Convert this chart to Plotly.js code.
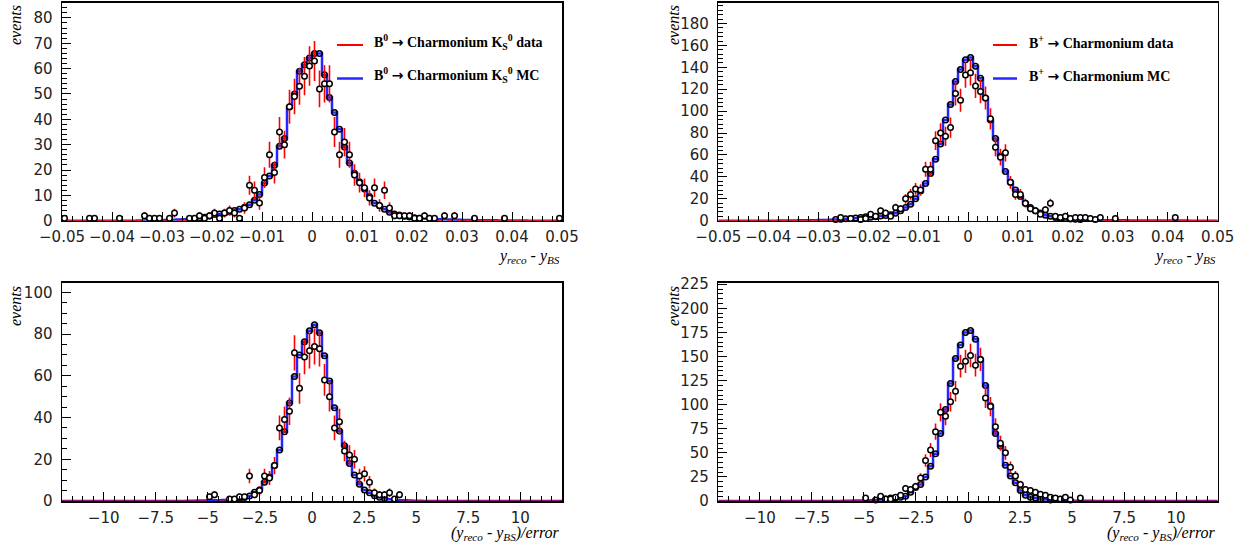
<!DOCTYPE html>
<html>
<head>
<meta charset="utf-8">
<script src="https://cdn.plot.ly/plotly-3.0.1.min.js"></script>
<style>html,body{margin:0;padding:0;background:#fff;}#chart{width:1257px;height:549px;}</style>
</head>
<body>
<div id="chart"></div>
<script>
// ---------------- data (100 bins per histogram) ----------------
const TOP_RANGE = [-0.05, 0.05];
const BOT_RANGE = [-12, 12];
const NBINS = 100;

// top-left: B0 -> Charmonium Ks0, y_reco - y_BS
const TL_DATA = [
 1,0,0,0,0,1,1,0,0,0,
 0,1,0,0,0,0,2,1,1,1,
 0,1,3,0,0,1,1,2,1,2,
 3,1,3,4,3,1,5,14,12,7,
 17,26,19,35,30,45,49,53,57,61,
 63,52,54,54,35,26,31,26,18,15,
 13,9,13,6,12,5,2,2,2,2,
 1,1,2,1,1,0,2,0,2,0,
 0,0,1,0,0,0,0,0,1,0,
 0,0,0,0,0,0,0,0,0,1];
const TL_MC = [
 0,0,0,0,0,0,0,0,0,0,
 0,0,0,0,0,0.1,0.1,0.2,0.2,0.3,
 0.3,0.4,0.4,0.5,0.6,0.8,0.9,1.1,1.4,1.9,
 2.4,2.6,3.0,3.5,4.0,4.5,5.3,6.3,8.1,10.3,
 14.9,17.6,21.9,29.4,32.4,44.9,50,59,61.5,64.2,
 66,66,57.6,48.6,42.7,36.1,29.1,22.8,18.7,15.4,
 12.5,9.5,6.9,5.9,4.5,3.3,2.6,2.2,1.8,1.5,
 1.2,1.0,0.9,0.8,0.7,0.6,0.5,0.5,0.4,0.4,
 0.3,0.3,0.3,0.2,0.2,0.2,0.2,0.1,0.1,0.1,
 0.1,0.1,0.1,0,0,0,0,0,0,0];

// top-right: B+ -> Charmonium, y_reco - y_BS
const TR_DATA = [
 0,0,0,0,0,0,0,0,0,0,
 0,0,0,0,0,0,0,0,0,0,
 0,0,0,0,3,0,2,0,1,2,
 6,4,9,7,4,12,11,20,24,29,
 28,47,47,73,80,77,85,116,110,133,
 135,123,118,112,93,67,58,62,35,24,
 24,16,11,9,6,10,16,4,3,4,
 2,3,3,3,2,1,3,0,0,2,
 0,0,0,0,0,0,0,0,0,0,
 0,3,0,0,0,0,0,0,0,0];
const TR_MC = [
 0,0,0,0,0,0,0,0,0,0,
 0,0,0.1,0.1,0.2,0.2,0.3,0.3,0.4,0.5,
 0.6,0.7,0.9,1.1,1.4,1.7,2.0,2.4,2.9,3.5,
 3.2,3.6,4.2,4.8,5.5,6.7,9,12,15,20,
 27,34,43,56,70,92,106,127,138,147,
 149,141,130,112,92,75,59,45,35,28,
 22,16,12,9,7,5,4,3,2.5,2,
 1.6,1.3,1,0.8,0.7,0.6,0.5,0.4,0.4,0.3,
 0.3,0.3,0.2,0.2,0.2,0.2,0.1,0.1,0.1,0.1,
 0.1,0.1,0.1,0.1,0,0,0,0,0,0];

// bottom-left: B0 -> Charmonium Ks0, (y_reco - y_BS)/error
const BL_DATA = [
 0,0,0,0,0,0,0,0,0,0,
 0,0,0,0,0,0,0,0,0,0,
 0,0,0,0,0,0,0,0,0,2,
 3,0,0,1,1,2,2,12,3,5,
 12,11,17,35,39,43,71,54,69,72,
 74,73,58,50,35,38,24,22,20,12,
 13,9,4,3,3,4,1,3,0,0,
 0,0,0,0,0,0,0,0,0,0,
 0,0,0,0,0,0,0,0,0,0,
 0,0,0,0,0,0,0,0,0,0];
const BL_MC = [
 0,0,0,0,0,0,0,0,0,0,
 0,0,0,0,0,0,0,0,0,0,
 0,0,0,0,0,0.1,0.1,0.2,0.2,0.3,
 0.3,0.4,0.5,0.7,0.9,1.2,1.7,2.4,4.2,5.3,
 9,11.5,17,24.4,33.2,47,59.6,70,76.3,81.6,
 84.5,80.6,69.6,57.5,44.7,33.5,26.5,18,12.5,8,
 5.3,4,2.5,1.8,1.2,0.8,0.5,0.4,0.3,0.2,
 0.1,0.1,0,0,0,0,0,0,0,0,
 0,0,0,0,0,0,0,0,0,0,
 0,0,0,0,0,0,0,0,0,0];

// bottom-right: B+ -> Charmonium, (y_reco - y_BS)/error
const BR_DATA = [
 0,0,0,0,0,0,0,0,0,0,
 0,0,0,0,0,0,0,0,0,0,
 0,0,0,0,0,0,0,0,0,3,
 0,0,5,2,2,4,6,13,12,15,
 24,42,53,72,92,88,103,114,140,145,
 151,141,147,107,98,77,60,50,35,26,
 17,12,11,9,7,6,4,3,2,4,
 1,0,3,0,0,0,0,0,0,0,
 0,0,0,0,0,0,0,0,0,0,
 0,0,0,0,0,0,0,0,0,0];
const BR_MC = [
 0,0,0,0,0,0,0,0,0,0,
 0,0,0,0,0,0,0,0,0,0,
 0,0,0,0,0,0.2,0.3,0.4,0.5,0.6,
 0.8,1,1.5,2,3,3.5,4,5,9,14,
 17,25,36,49,70,95,122,148,162,175,
 177,168,147,120,99,70,57,37,26,19,
 11,6,4,3,2,1.5,1,0.8,0.6,0.5,
 0.4,0.3,0.3,0.2,0.2,0.1,0.1,0.1,0,0,
 0,0,0,0,0,0,0,0,0,0,
 0,0,0,0,0,0,0,0,0,0];

const ARROW = '<span style="font-family:DejaVu Sans">\u2192</span>';
const LEG_B0 = ['B<sup>0</sup> '+ARROW+' Charmonium K<sub>S</sub><sup>0</sup> data',
                'B<sup>0</sup> '+ARROW+' Charmonium K<sub>S</sub><sup>0</sup> MC'];
const LEG_BP = ['B<sup>+</sup> '+ARROW+' Charmonium data',
                'B<sup>+</sup> '+ARROW+' Charmonium MC'];
const XT_TOP = '<i>y<sub>reco</sub> - y<sub>BS</sub></i>';
const XT_BOT = '<i>(y<sub>reco</sub> - y<sub>BS</sub>)/error</i>';
const YT = '<i>events</i>';

// ---------------- helpers ----------------
function binEdges(r){ const w=(r[1]-r[0])/NBINS; const e=[]; for(let i=0;i<=NBINS;i++) e.push(r[0]+i*w); return e; }
function binCenters(r){ const w=(r[1]-r[0])/NBINS; const c=[]; for(let i=0;i<NBINS;i++) c.push(r[0]+(i+0.5)*w); return c; }

const RED='#ff0000', BLUE='#2626ff';
const traces=[];
function addPanel(ax, r, data, mc){
  const xa='x'+(ax===1?'':ax), ya='y'+(ax===1?'':ax);
  const e=binEdges(r), c=binCenters(r);
  traces.push({type:'scatter', mode:'lines', x:e, y:mc.concat([mc[mc.length-1]]),
    line:{shape:'hv', color:BLUE, width:2.5}, xaxis:xa, yaxis:ya, hoverinfo:'skip', showlegend:false});
  const zx=[], zy=[];
  data.forEach((v,i)=>{ if(v===0){ zx.push(e[i],e[i+1],null); zy.push(0,0,null);} });
  traces.push({type:'scatter', mode:'lines', x:zx, y:zy, line:{color:RED, width:1.2},
    xaxis:xa, yaxis:ya, hoverinfo:'skip', showlegend:false});
  traces.push({type:'scatter', mode:'markers', x:c, y:mc.map(v=>v>=1?v:null),
    marker:{symbol:'circle-open', size:5.5, color:'#000', line:{width:1.5}},
    xaxis:xa, yaxis:ya, cliponaxis:false, hoverinfo:'skip', showlegend:false});
  traces.push({type:'scatter', mode:'markers', x:c, y:data.map(v=>v>0?v:null),
    error_y:{type:'data', array:data.map(v=>Math.sqrt(v)), color:RED, thickness:1.6, width:0},
    marker:{symbol:'circle', size:5.5, color:'#fff', line:{color:'#000', width:1.5}},
    xaxis:xa, yaxis:ya, cliponaxis:false, hoverinfo:'skip', showlegend:false});
}
addPanel(1, TOP_RANGE, TL_DATA, TL_MC);
addPanel(2, TOP_RANGE, TR_DATA, TR_MC);
addPanel(3, BOT_RANGE, BL_DATA, BL_MC);
addPanel(4, BOT_RANGE, BR_DATA, BR_MC);

// ---------------- layout ----------------
const W=1257, H=549;
const px=v=>v/W, py=v=>1-v/H;
const TICKFONT={family:'DejaVu Sans, Liberation Sans, sans-serif', size:15, color:'#222'};
function xax(dom, anchor, r, dt, mdt){
  return {domain:dom, anchor:anchor, range:r, autorange:false, tick0:0, dtick:dt, tickangle:0,
    ticks:'inside', ticklen:9, tickwidth:1, tickcolor:'#000',
    minor:{dtick:mdt, tick0:0, ticks:'inside', ticklen:5, tickwidth:1, tickcolor:'#000'},
    showline:true, mirror:true, linecolor:'#000', linewidth:1.5, ticklabelstandoff:2,
    showgrid:false, zeroline:false, tickfont:TICKFONT, fixedrange:true};
}
function yax(dom, anchor, r, dt, mdt){
  return {domain:dom, anchor:anchor, range:r, autorange:false, tick0:0, dtick:dt,
    ticks:'inside', ticklen:9, tickwidth:1, tickcolor:'#000',
    minor:{dtick:mdt, tick0:0, ticks:'inside', ticklen:5, tickwidth:1, tickcolor:'#000'},
    showline:true, mirror:true, linecolor:'#000', linewidth:1.5,
    showgrid:false, zeroline:false, tickfont:TICKFONT, ticklabelstandoff:5, fixedrange:true};
}
const XL=[px(62),px(562)], XR=[px(718.3),px(1217.7)];
const YT_DOM=[py(220.7),py(2.7)], YB_DOM=[py(501),py(282.7)];

const SERIF='Liberation Serif, Times New Roman, serif';
const annotations=[];
function ann(text, x, y, xanchor, yanchor, size, extra){
  annotations.push(Object.assign({text:text, x:x, y:y, xref:'paper', yref:'paper', xanchor:xanchor, yanchor:yanchor,
    showarrow:false, font:{family:SERIF, size:size, color:'#000'}}, extra||{}));
}
ann(XT_TOP, px(562), py(256), 'right', 'middle', 16);
ann(XT_TOP, px(1217.7), py(256), 'right', 'middle', 16);
ann(XT_BOT, px(562), py(533), 'right', 'middle', 16);
ann(XT_BOT, px(1217.7), py(533), 'right', 'middle', 16);
ann(YT, px(15), py(3), 'center', 'top', 16, {textangle:-90});
ann(YT, px(673), py(3), 'center', 'top', 16, {textangle:-90});
ann(YT, px(15), py(284), 'center', 'top', 16, {textangle:-90});
ann(YT, px(673), py(284), 'center', 'top', 16, {textangle:-90});
ann('<b>'+LEG_B0[0]+'</b>', px(372), py(42), 'left', 'middle', 14);
ann('<b>'+LEG_B0[1]+'</b>', px(372), py(75), 'left', 'middle', 14);
ann('<b>'+LEG_BP[0]+'</b>', px(1027), py(42), 'left', 'middle', 14);
ann('<b>'+LEG_BP[1]+'</b>', px(1027), py(75), 'left', 'middle', 14);
const shapes=[
  {type:'line', xref:'paper', yref:'paper', x0:px(337), x1:px(363), y0:py(45), y1:py(45), line:{color:RED, width:2}},
  {type:'line', xref:'paper', yref:'paper', x0:px(337), x1:px(363), y0:py(78.5), y1:py(78.5), line:{color:BLUE, width:2.5}},
  {type:'line', xref:'paper', yref:'paper', x0:px(993), x1:px(1017), y0:py(45), y1:py(45), line:{color:RED, width:2}},
  {type:'line', xref:'paper', yref:'paper', x0:px(993), x1:px(1017), y0:py(78.5), y1:py(78.5), line:{color:BLUE, width:2.5}}
];

const layout={
  width:W, height:H, margin:{l:0,r:0,t:0,b:0}, paper_bgcolor:'#fff', plot_bgcolor:'#fff',
  showlegend:false,
  xaxis: xax(XL,'y', TOP_RANGE, 0.01, 0.002),
  yaxis: yax(YT_DOM,'x', [0,86], 10, 2),
  xaxis2: xax(XR,'y2', TOP_RANGE, 0.01, 0.002),
  yaxis2: yax(YT_DOM,'x2', [0,199], 20, 4),
  xaxis3: xax(XL,'y3', BOT_RANGE, 2.5, 0.5),
  yaxis3: yax(YB_DOM,'x3', [0,104.6], 20, 5),
  xaxis4: xax(XR,'y4', BOT_RANGE, 2.5, 0.5),
  yaxis4: yax(YB_DOM,'x4', [0,226.6], 25, 5),
  annotations:annotations, shapes:shapes
};
Plotly.newPlot('chart', traces, layout, {staticPlot:true, displayModeBar:false});
</script>
</body>
</html>
